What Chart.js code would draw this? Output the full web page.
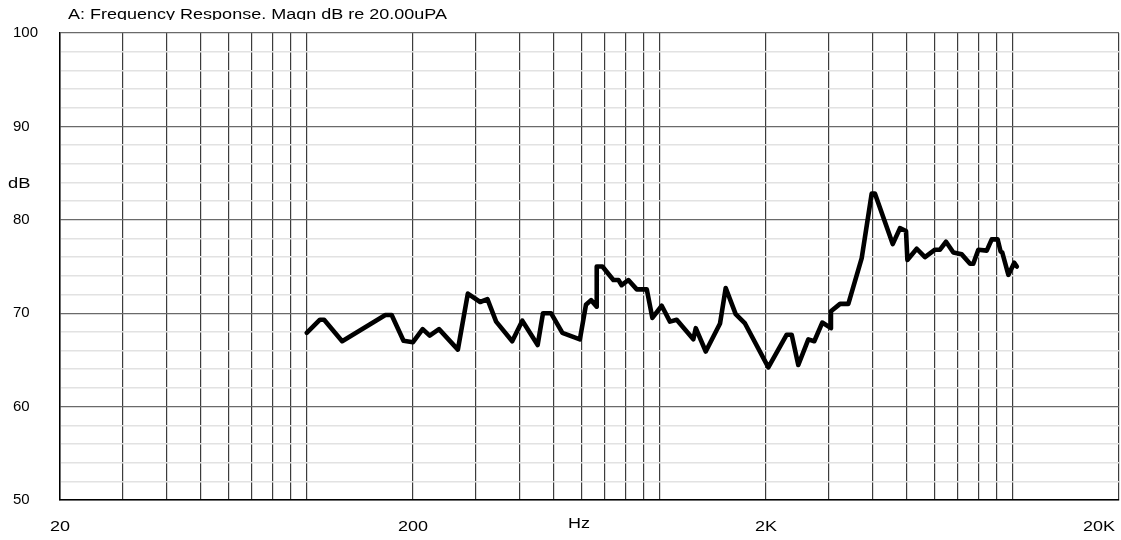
<!DOCTYPE html>
<html lang="en">
<head>
    <meta charset="UTF-8">
    <title>Frequency Response</title>
    <script src="https://cdn.jsdelivr.net/npm/chart.js"></script>
    <style>
        html, body { margin: 0; padding: 0; background: #fff; }
        #chart { display: block; }
    </style>
</head>
<body>
    <canvas id="chart" width="1121" height="540"></canvas>
    <script>
        // frequency (Hz) and level (dB)
        const freqs = [100, 109, 112, 126, 167, 174, 188, 200, 213, 223,
            237, 268, 286, 310, 325, 344, 382, 408, 451, 467,
            492, 530, 594, 618, 639, 663, 663, 688, 739, 764,
            780, 815, 861, 919, 953, 1013, 1069, 1117, 1245, 1265,
            1350, 1482, 1538, 1641, 1744, 2031, 2289, 2365, 2469, 2636,
            2740, 2887, 3055, 3055, 3242, 3422, 3734, 3985, 4072, 4571,
            4793, 4985, 5030, 5346, 5641, 6023, 6222, 6472, 6789, 7170,
            7570, 7730, 7990, 8440, 8720, 9060, 9240, 9340, 9720, 10100, 10270];
        const levels = [67.9, 69.3, 69.3, 67.0, 69.8, 69.8, 67.05, 66.9, 68.3, 67.6,
            68.3, 66.1, 72.1, 71.2, 71.5, 69.1, 67.0, 69.2, 66.6, 70.0,
            70.0, 67.9, 67.2, 70.9, 71.4, 70.7, 75.0, 75.0, 73.55, 73.55,
            73.0, 73.55, 72.55, 72.55, 69.5, 70.8, 69.1, 69.3, 67.2, 68.4,
            65.9, 68.9, 72.7, 69.9, 68.9, 64.2, 67.7, 67.7, 64.45, 67.2,
            67.0, 69.0, 68.4, 70.2, 71.0, 71.0, 75.9, 82.8, 82.8, 77.4,
            79.1, 78.8, 75.7, 76.9, 76.0, 76.8, 76.8, 77.65, 76.5, 76.3,
            75.3, 75.3, 76.8, 76.7, 77.9, 77.9, 76.6, 76.5, 74.1, 75.4, 75.0];

        // vertical grid lines and the labelled ones
        const xGrid = [20, 30, 40, 50, 60, 70, 80, 90, 100,
            200, 300, 400, 500, 600, 700, 800, 900, 1000,
            2000, 3000, 4000, 5000, 6000, 7000, 8000, 9000, 10000, 20000];
        const xLabelVals = [20, 200, 2000, 20000];
        const xLabels = ['20', '200', '2K', '20K'];
        const yMajor = [50, 60, 70, 80, 90, 100];

        const FONT = "'Liberation Sans', Arial, sans-serif";

        function stretchText(ctx, txt, x, y, align, sx) {
            ctx.save();
            ctx.translate(x, y);
            ctx.scale(sx, 1);
            ctx.textAlign = align;
            ctx.fillText(txt, 0, 0);
            ctx.restore();
        }

        // title, axis names and x labels
        const textPlugin = {
            id: 'texts',
            afterDraw(chart) {
                const ctx = chart.ctx;
                const xs = chart.scales.x;
                ctx.save();
                ctx.fillStyle = '#000';

                // title (bottom is cut off in the original)
                ctx.save();
                ctx.beginPath();
                ctx.rect(0, 0, chart.width, 20);
                ctx.clip();
                ctx.font = '14px ' + FONT;
                ctx.textBaseline = 'alphabetic';
                const title = 'A: Frequency Response. Magn dB re 20.00uPA';
                const tw = ctx.measureText(title).width;
                stretchText(ctx, title, 68, 18.5, 'left', 379 / tw);
                ctx.restore();

                ctx.font = '15px ' + FONT;
                ctx.textBaseline = 'middle';
                stretchText(ctx, 'dB', 8, 184, 'left', 1.22);
                stretchText(ctx, 'Hz', 579, 524, 'center', 1.2);

                xLabelVals.forEach((v, i) => {
                    const w = ctx.measureText(xLabels[i]).width * 1.2;
                    let px = xs.getPixelForValue(v);
                    px = Math.max(w / 2 + 4, Math.min(px, chart.width - w / 2 - 6));
                    stretchText(ctx, xLabels[i], px, 527, 'center', 1.2);
                });
                ctx.restore();
            }
        };

        const points = freqs.map((f, i) => ({ x: f, y: levels[i] }));

        new Chart(document.getElementById('chart'), {
            type: 'line',
            data: {
                datasets: [{
                    data: points,
                    borderColor: '#000',
                    borderWidth: 4.6,
                    borderJoinStyle: 'round',
                    borderCapStyle: 'round',
                    pointRadius: 0,
                    tension: 0,
                    fill: false
                }]
            },
            options: {
                responsive: false,
                animation: false,
                layout: { padding: { left: 13, top: 33, right: 2, bottom: 40 } },
                plugins: {
                    legend: { display: false },
                    tooltip: { enabled: false }
                },
                scales: {
                    x: {
                        type: 'logarithmic',
                        min: 20,
                        max: 20000,
                        afterBuildTicks: s => { s.ticks = xGrid.map(v => ({ value: v })); },
                        afterFit: s => { s.height = 0; },
                        ticks: { display: false },
                        grid: { color: '#3c3c3c', lineWidth: 1.2, drawTicks: false },
                        border: { color: '#000', width: 1.5 }
                    },
                    y: {
                        min: 50,
                        max: 100,
                        afterFit: s => { s.width = 47; },
                        ticks: {
                            stepSize: 2,
                            autoSkip: false,
                            crossAlign: 'far',
                            padding: 0,
                            color: '#000',
                            font: { family: FONT, size: 15 },
                            callback: v => yMajor.includes(v) ? String(v) : ''
                        },
                        grid: {
                            drawTicks: false,
                            color: ctx => yMajor.includes(ctx.tick.value) ? '#6a6a6a' : '#e2e2e2',
                            lineWidth: ctx => yMajor.includes(ctx.tick.value) ? 1.3 : 1.5
                        },
                        border: { color: '#000', width: 1.5 }
                    }
                }
            },
            plugins: [textPlugin]
        });
    </script>
</body>
</html>
